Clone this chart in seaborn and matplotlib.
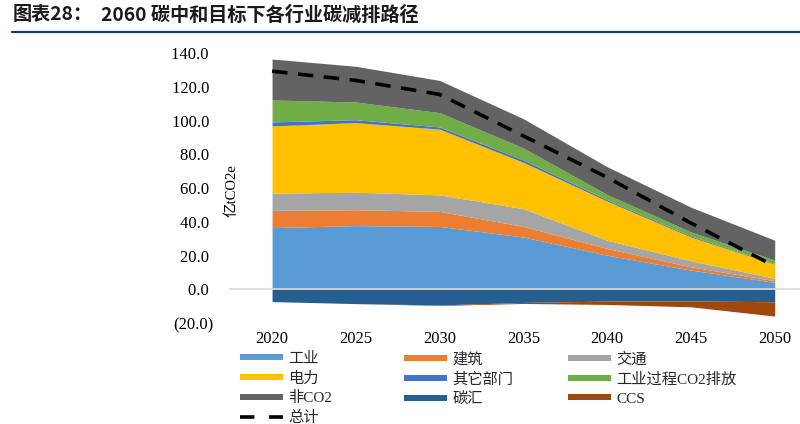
import matplotlib
matplotlib.use("Agg")
import matplotlib.pyplot as plt
import seaborn as sns
import pandas as pd
from matplotlib.lines import Line2D

# values (亿tCO2e)
years = [2020, 2025, 2030, 2035, 2040, 2045, 2050]
industry = [36.6, 37.8, 37.3, 31.0, 20.2, 11.4, 4.1]
buildings = [10.2, 9.4, 8.9, 6.3, 4.0, 1.9, 1.0]
transport = [10.2, 10.4, 9.8, 10.5, 4.9, 3.6, 1.4]
power = [39.9, 41.3, 39.0, 27.5, 23.2, 14.1, 8.4]
other = [2.4, 1.7, 1.3, 1.4, 0.8, 0.6, 0.4]
process = [13.0, 10.5, 8.5, 7.1, 3.1, 2.4, 2.0]
non_co2 = [24.3, 21.2, 19.1, 17.4, 16.5, 14.7, 11.8]
sink = [-7.3, -8.5, -9.3, -7.8, -7.0, -6.9, -7.4]
ccs = [0.0, 0.0, -0.3, -0.6, -2.0, -3.5, -8.5]
total = [129.4, 123.9, 115.6, 91.0, 66.4, 39.3, 13.7]

pos_labels = ["工业", "建筑", "交通", "电力", "其它部门", "工业过程CO2排放", "非CO2"]
pos_colors = ["#5B9BD5", "#ED7D31", "#A5A5A5", "#FFC000", "#4472C4", "#70AD47", "#636363"]
neg_labels = ["碳汇", "CCS"]
neg_colors = ["#255E91", "#9E480E"]

sns.set_theme(style="white")
plt.rcParams["font.family"] = ["Liberation Serif", "Noto Sans CJK SC"]

fig = plt.figure(figsize=(8, 4.24), dpi=100)
ax = fig.add_axes([229 / 800, 1 - 323 / 424, 571 / 800, 269.7 / 424])

ax.stackplot(years, [industry, buildings, transport, power, other, process, non_co2],
             colors=pos_colors, lw=0)
ax.stackplot(years, [sink, ccs], colors=neg_colors, lw=0)

df = pd.DataFrame({"year": years, "total": total})
sns.lineplot(data=df, x="year", y="total", ax=ax, color="black", lw=2.6,
             linestyle=(0, (4.3, 2.9)), zorder=6)
ax.axhline(0, color="#d9d9d9", lw=1.2, zorder=5)

ax.set_xlim(2017.43, 2051.51)
ax.set_ylim(-20, 140)
ax.set_xticks(years)
ax.set_xticklabels([str(y) for y in years], fontsize=12)
yt = list(range(-20, 141, 20))
ax.set_yticks(yt)
ax.set_yticklabels([f"({abs(v):.1f})" if v < 0 else f"{v:.1f} " for v in yt], fontsize=12)
ax.get_yticklabels()[0].set_color("red")
ax.tick_params(axis="y", length=0, pad=11.5, colors="black")
ax.tick_params(axis="x", length=0, pad=6, colors="black")
ax.set_xlabel("")
ax.set_ylabel("")
for s in ax.spines.values():
    s.set_visible(False)
ax.grid(False)

fig.text(232 / 800, 1 - 191 / 424, "亿tCO2e", rotation=90, ha="center", va="center",
         fontsize=10.5, color="black")

# title bar
fig.text(13 / 800, 1 - 15 / 424, "图表28：", fontsize=13.8, fontweight="bold",
         family=["Noto Sans CJK SC", "DejaVu Sans"], color="#1a1a1a", va="center")
fig.text(101 / 800, 1 - 15 / 424, "2060 碳中和目标下各行业碳减排路径", fontsize=13.8,
         fontweight="bold", family=["Noto Sans CJK SC", "DejaVu Sans"], color="#1a1a1a",
         va="center")
fig.add_artist(Line2D([12 / 800, 1], [1 - 32.3 / 424] * 2, transform=fig.transFigure,
                      color="#1F3864", lw=1.6))

# legend, three columns laid out row by row
names = pos_labels + neg_labels
cols = pos_colors + neg_colors
handles = {n: Line2D([], [], color=c, lw=4.3, solid_capstyle="butt") for n, c in zip(names, cols)}
handles["总计"] = Line2D([], [], color="black", lw=2.6, linestyle=(0, (4.0, 4.0)))
columns = [["工业", "电力", "非CO2", "总计"],
           ["建筑", "其它部门", "碳汇"],
           ["交通", "工业过程CO2排放", "CCS"]]
for x0, col in zip([240, 404, 568], columns):
    fig.legend([handles[n] for n in col], col, loc="upper left",
               bbox_to_anchor=(x0 / 800, 1 - 352 / 424), bbox_transform=fig.transFigure,
               frameon=False, borderpad=0, borderaxespad=0, handlelength=2.82,
               handletextpad=0.33, labelspacing=0.37,
               prop={"family": ["Liberation Serif", "Noto Sans CJK SC"], "size": 11})

fig.savefig("out.png", dpi=100)
